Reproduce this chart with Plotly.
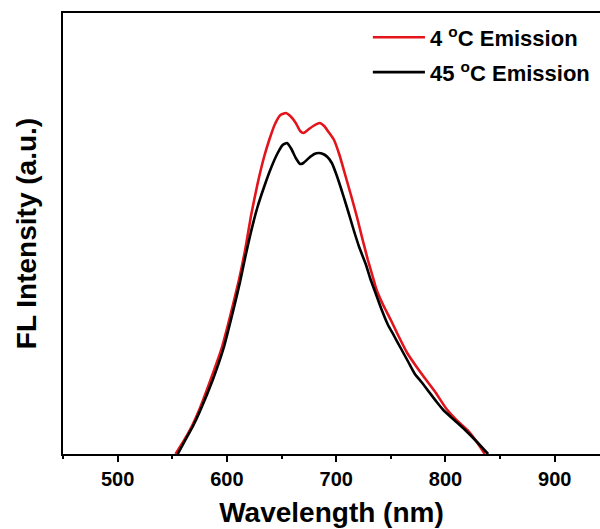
import plotly.graph_objects as go

# 4 °C emission spectrum (wavelength nm, FL intensity a.u.)
wl_4c = [553, 561, 568, 575, 585, 595, 603, 611, 617, 622, 628, 634, 639, 644, 649, 654, 658, 663, 667,
         670, 674, 679, 685, 689, 693, 698, 703, 708, 714, 719, 724, 729, 733, 737, 743, 750, 757, 765,
         773, 781, 790, 801, 810, 820, 828, 836]
fl_4c = [0, 14, 28, 45, 74, 105, 138, 174, 206, 238, 270, 297, 315, 330, 339, 341, 338, 331, 323,
         321, 324, 328, 331, 328, 322, 314, 299, 280, 257, 237, 215, 194, 179, 164, 149, 134, 118, 101,
         88, 76, 63, 45, 34, 24, 13, 0]

# 45 °C emission spectrum
wl_45c = [555, 562, 569, 575, 587, 597, 605, 612, 617, 622, 628, 634, 640, 646, 651, 655, 659, 663, 667,
          670, 675, 680, 684, 688, 692, 696, 700, 704, 710, 716, 721, 727, 731, 736, 741, 747, 753, 759,
          766, 772, 778, 785, 792, 798, 808, 818, 828, 839]
fl_45c = [0, 14, 28, 42, 74, 106, 140, 172, 198, 222, 247, 267, 285, 300, 309, 311, 305, 296, 290,
          291, 296, 300, 301, 300, 297, 291, 280, 267, 246, 224, 207, 190, 176, 161, 146, 130, 118, 106,
          92, 80, 72, 62, 52, 44, 34, 24, 13, 0]

series_names = ["4 <sup>o</sup>C Emission", "45 <sup>o</sup>C Emission"]
series_colors = ["#e3141c", "#000000"]

x_ticks = [500, 600, 700, 800, 900]
x_range = [450, 941.4]
y_range = [0, 441]

FONT = "Arial"

fig = go.Figure()
for name, color, xs, ys in [
    (series_names[0], series_colors[0], wl_4c, fl_4c),
    (series_names[1], series_colors[1], wl_45c, fl_45c),
]:
    fig.add_trace(go.Scatter(
        x=xs, y=ys, mode="lines", name=name, showlegend=False,
        line=dict(color=color, width=2.6, shape="spline", smoothing=0.5),
    ))

# legend drawn as line samples + labels in paper coordinates
legend_rows_y = [0.945, 0.866]
for name, color, yy in zip(series_names, series_colors, legend_rows_y):
    fig.add_shape(type="line", xref="paper", yref="paper", x0=0.577, x1=0.674, y0=yy, y1=yy,
                  line=dict(color=color, width=2.6))
    fig.add_annotation(xref="paper", yref="paper", x=0.680, y=yy, xanchor="left", yanchor="middle",
                       text=name, showarrow=False,
                       font=dict(size=22, family=FONT, weight="bold", color="black"))

fig.update_layout(
    width=600, height=529,
    margin=dict(l=63, r=0, t=13, b=75),
    paper_bgcolor="white", plot_bgcolor="white",
    font=dict(family=FONT, color="black", weight="bold"),
    showlegend=False,
    xaxis=dict(
        range=x_range, tickvals=x_ticks, ticktext=[str(t) for t in x_ticks],
        showline=True, linecolor="black", linewidth=2, mirror=True,
        ticks="outside", ticklen=6, tickwidth=2, tickcolor="black",
        minor=dict(dtick=50, tick0=0, ticks="outside", ticklen=3, tickwidth=2, tickcolor="black"),
        showgrid=False, zeroline=False,
        tickfont=dict(size=20, family=FONT, weight="bold"),
        title=dict(text="Wavelength (nm)", font=dict(size=28, family=FONT, weight="bold"), standoff=13),
    ),
    yaxis=dict(
        range=y_range, showline=True, linecolor="black", linewidth=2, mirror=False,
        showticklabels=False, ticks="", showgrid=False, zeroline=False,
        title=dict(text="FL Intensity (a.u.)", font=dict(size=28, family=FONT, weight="bold"), standoff=16),
    ),
)

fig.write_html(
    "out.html",
    config={"displayModeBar": False},
    post_script="document.body.style.margin='0';document.body.style.overflow='hidden';",
)
